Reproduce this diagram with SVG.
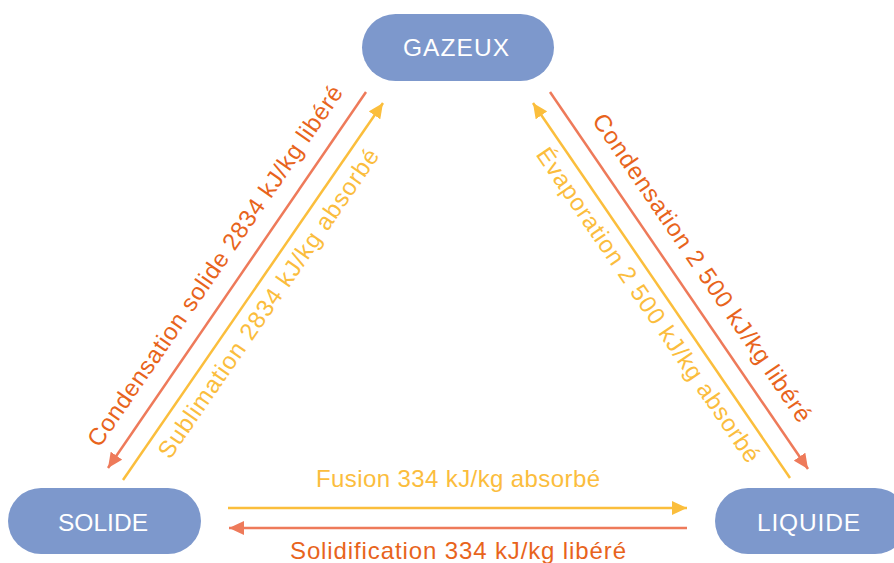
<svg xmlns="http://www.w3.org/2000/svg" width="894" height="563" viewBox="0 0 894 563">
<style>
.node{fill:#7d98cc}
.nt{font-family:"Liberation Sans",Arial,sans-serif;font-size:24.5px;fill:#ffffff;text-anchor:middle}
.lbl{font-family:"Liberation Sans",Arial,sans-serif;font-size:24px;text-anchor:middle}
.o{fill:#e8641c}
.y{fill:#fbbd3d}
.lr{stroke:#ee7a5a;stroke-width:2.5;fill:none}
.ly{stroke:#fbbe3c;stroke-width:2.5;fill:none}
</style>
<defs>
<marker id="ar" markerUnits="userSpaceOnUse" markerWidth="16" markerHeight="14" refX="15" refY="7" orient="auto" viewBox="0 0 16 14">
<path d="M0,0 L15,7 L0,14 z" fill="#ee7a5a"/>
</marker>
<marker id="ay" markerUnits="userSpaceOnUse" markerWidth="16" markerHeight="14" refX="15" refY="7" orient="auto" viewBox="0 0 16 14">
<path d="M0,0 L15,7 L0,14 z" fill="#fbbe3c"/>
</marker>
</defs>
<g id="connectors">
<line class="lr" x1="366" y1="92" x2="108" y2="468" marker-end="url(#ar)"/>
<line class="ly" x1="123" y1="480" x2="383" y2="103" marker-end="url(#ay)"/>
<line class="lr" x1="550" y1="92" x2="808" y2="469" marker-end="url(#ar)"/>
<line class="ly" x1="790" y1="478" x2="533" y2="103" marker-end="url(#ay)"/>
<line class="ly" x1="228" y1="508" x2="687" y2="508" marker-end="url(#ay)"/>
<line class="lr" x1="687" y1="528" x2="229" y2="528" marker-end="url(#ar)"/>
<text class="lbl o" transform="translate(221.7,270.5) rotate(-55.54)" textLength="432" lengthAdjust="spacing">Condensation solide 2834 kJ/kg libéré</text>
<text class="lbl y" transform="translate(275,308) rotate(-55.4)" textLength="370" lengthAdjust="spacing">Sublimation 2834 kJ/kg absorbé</text>
<text class="lbl o" transform="translate(695.4,272.4) rotate(55.6)" textLength="368" lengthAdjust="spacing">Condensation 2 500 kJ/kg libéré</text>
<text class="lbl y" transform="translate(641.5,309.5) rotate(55.6)" textLength="376" lengthAdjust="spacing">Évaporation 2 500 kJ/kg absorbé</text>
<text class="lbl y" x="458" y="487" textLength="284" lengthAdjust="spacing">Fusion 334 kJ/kg absorbé</text>
<text class="lbl o" x="458" y="559" textLength="336" lengthAdjust="spacing">Solidification 334 kJ/kg libéré</text>
</g>
<g id="gazeux">
<rect class="node" x="362" y="14" width="192" height="67" rx="33.5"/>
<text class="nt" x="456" y="56" textLength="106" lengthAdjust="spacing">GAZEUX</text>
</g>
<g id="solide">
<rect class="node" x="8" y="488" width="193" height="66" rx="33"/>
<text class="nt" x="103" y="531" textLength="90" lengthAdjust="spacing">SOLIDE</text>
</g>
<g id="liquide">
<rect class="node" x="715" y="488" width="193" height="66" rx="33"/>
<text class="nt" x="808.5" y="531" textLength="103" lengthAdjust="spacing">LIQUIDE</text>
</g>
</svg>
